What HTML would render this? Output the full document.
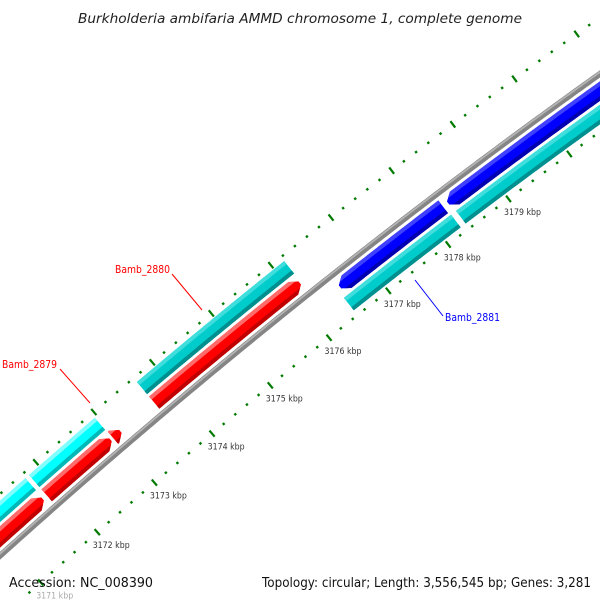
<!DOCTYPE html>
<html><head><meta charset="utf-8"><style>
html,body{margin:0;padding:0;background:#fff;width:600px;height:600px;overflow:hidden;}
svg{display:block;overflow:hidden;}
text{font-family:"DejaVu Sans","Liberation Sans",sans-serif;}
</style></head><body>
<svg id="map" width="600" height="600" viewBox="0 0 600 600" xmlns="http://www.w3.org/2000/svg">
<defs id="defs"><clipPath id="frame"><rect x="0" y="0" width="600" height="600"/></clipPath></defs>
<rect x="0" y="0" width="600" height="600" fill="#fff"/>
<g clip-path="url(#frame)">
<g id="ticks"></g>
<g id="backbone"></g>
<g id="features"></g>
<g id="labels"></g>
</g>
<text x="300" y="23" font-size="13.5" font-style="italic" fill="#222" text-anchor="middle" textLength="444" lengthAdjust="spacingAndGlyphs">Burkholderia ambifaria AMMD chromosome 1, complete genome</text>
<text x="9" y="587" font-size="13" fill="#111" textLength="144" lengthAdjust="spacingAndGlyphs">Accession: NC_008390</text>
<text x="591" y="587" font-size="13" fill="#111" text-anchor="end" textLength="329" lengthAdjust="spacingAndGlyphs">Topology: circular; Length: 3,556,545 bp; Genes: 3,281</text>
</svg>
<script>
// ---- data ----
const featStart  = [3169.5, 3171.82, 3172.97, 3173.68, 3169.5, 3171.82, 3173.68, 3176.53, 3178.33, 3176.48, 3178.35];
const featEnd    = [3171.75, 3172.93, 3173.10, 3176.15, 3171.76, 3172.96, 3176.17, 3178.25, 3183.0, 3178.27, 3183.0];
const featTrack  = [1, 1, 1, 1, 2, 2, 2, -1, -1, -2, -2];
const featStrand = [1, 1, 1, 1, 0, 0, 0, -1, -1, 0, 0];
const featColor  = ["red","red","red","red","cyan","cyan","teal","blue","blue","teal","teal"];
const tickMajor  = [3170, 3171, 3172, 3173, 3174, 3175, 3176, 3177, 3178, 3179, 3180, 3181, 3182];
const tickLabels = ["3171 kbp","3172 kbp","3173 kbp","3174 kbp","3175 kbp","3176 kbp","3177 kbp","3178 kbp","3179 kbp"];
const tickLabelPos = [3171, 3172, 3173, 3174, 3175, 3176, 3177, 3178, 3179];
const geneNames  = ["Bamb_2879", "Bamb_2880", "Bamb_2881"];

// ---- geometry ----
const NS="http://www.w3.org/2000/svg";
const CX=4543, CY=5598, R0=6787, A0=-131.27, DEG=0.643, K0=3172;
const TRACK_R={"1":R0+14,"2":R0+33,"-1":R0-14,"-2":R0-33};
const HALF=8;
function ang(k){return (A0+(k-K0)*DEG)*Math.PI/180;}
function pt(r,k){const a=ang(k);return [CX+r*Math.cos(a),CY+r*Math.sin(a)];}
function arcPts(r,k1,k2){const out=[];const n=Math.max(2,Math.ceil(Math.abs(k2-k1)/0.05));for(let i=0;i<=n;i++){out.push(pt(r,k1+(k2-k1)*i/n));}return out;}
function ptsStr(a){return a.map(p=>p[0].toFixed(2)+","+p[1].toFixed(2)).join(" ");}
function mk(tag,attrs,parent){const e=document.createElementNS(NS,tag);for(const k in attrs)e.setAttribute(k,attrs[k]);parent.appendChild(e);return e;}
const COLORS={
  red:{base:"#ff0000",light:"#ff6a6a",dark:"#c00000"},
  cyan:{base:"#00ffff",light:"#7fffff",dark:"#00b8b8"},
  teal:{base:"#00cccc",light:"#40dddd",dark:"#008f8f"},
  blue:{base:"#0000ff",light:"#4040ff",dark:"#0000b0"}
};

// backbone
const bb=document.getElementById("backbone");
const bbLine=mk("polyline",{points:ptsStr(arcPts(R0,3169.6,3183)),fill:"none",stroke:"#858585","stroke-width":6},bb);


const bbHi=mk("polyline",{points:ptsStr(arcPts(R0+1.5,3169.6,3183)),fill:"none",stroke:"#b4b4b4","stroke-width":1.8},bb);



// ticks
const tg=document.getElementById("ticks");
const RIN=R0-47, ROUT=R0+46;
for(let i=0;i<=70;i++){
  const k=3169.6+i*0.2;
  const isMajor=tickMajor.some(m=>Math.abs(m-k)<0.01);
  [RIN,ROUT].forEach(r=>{
    const len=isMajor?4:1.2;
    const a=pt(r-len,k), b=pt(r+len,k);
    const ln=mk("line",{x1:a[0],y1:a[1],x2:b[0],y2:b[1],stroke:"#007a00","stroke-width":isMajor?2.2:2.4},tg);
    
    
  });
}
tickLabelPos.forEach((k,i)=>{
  const p=pt(RIN,k);
  const t=mk("text",{x:(p[0]+14).toFixed(1),y:(p[1]+16).toFixed(1),"font-size":"9","text-anchor":"middle",fill:(k===3171?"#aaa":"#333"),textLength:"37",lengthAdjust:"spacingAndGlyphs"},tg);
  t.textContent=tickLabels[i];
  
  
});

// features
const fg=document.getElementById("features");
const defs=document.getElementById("defs");
featStart.forEach((s,i)=>{
  const e=featEnd[i], rc=TRACK_R[String(featTrack[i])], ro=rc+HALF, ri=rc-HALF, st=featStrand[i];
  const AH=0.11;
  let poly;
  if(st===1){
    const b=Math.max(s,e-AH);
    poly=arcPts(ro,s,b).concat([pt(ro,b),pt(rc+2,e),pt(rc-2,e),pt(ri,b)]).concat(arcPts(ri,b,s));
  }else if(st===-1){
    const b=Math.min(e,s+AH);
    poly=[pt(rc+2,s)].concat(arcPts(ro,b,e)).concat(arcPts(ri,e,b)).concat([pt(rc-2,s)]);
  }else{
    poly=arcPts(ro,s,e).concat(arcPts(ri,e,s));
  }
  const col=COLORS[featColor[i]];
  const cp=mk("clipPath",{id:"clip"+i},defs);
  mk("polygon",{points:ptsStr(poly)},cp);
  const g=mk("g",{"clip-path":"url(#clip"+i+")"},fg);
  
  
  mk("polygon",{points:ptsStr(poly),fill:col.base},g);
  const s0=s-0.2,e0=e+0.2;
  mk("polygon",{points:ptsStr(arcPts(ro+2,s0,e0).concat(arcPts(ro-4,e0,s0))),fill:col.light},g);
  mk("polygon",{points:ptsStr(arcPts(ri+4,s0,e0).concat(arcPts(ri-2,e0,s0))),fill:col.dark},g);
});

// gene labels
const lg=document.getElementById("labels");
const labelDefs=[
  {name:geneNames[0],x:2,y:368,w:55,c:"#ff0000",lx1:60,ly1:369,lx2:90,ly2:403},
  {name:geneNames[1],x:115,y:273,w:55,c:"#ff0000",lx1:172,ly1:274,lx2:202,ly2:310},
  {name:geneNames[2],x:445,y:321,w:55,c:"#0000ff",lx1:415,ly1:280,lx2:443,ly2:316}
];
labelDefs.forEach(d=>{
  const l=mk("line",{x1:d.lx1,y1:d.ly1,x2:d.lx2,y2:d.ly2,stroke:d.c,"stroke-width":1},lg);
  
  
  const t=mk("text",{x:d.x,y:d.y,"font-size":"10.5",fill:d.c,textLength:d.w,lengthAdjust:"spacingAndGlyphs"},lg);
  t.textContent=d.name;
  
  
});
</script>
</body></html>
